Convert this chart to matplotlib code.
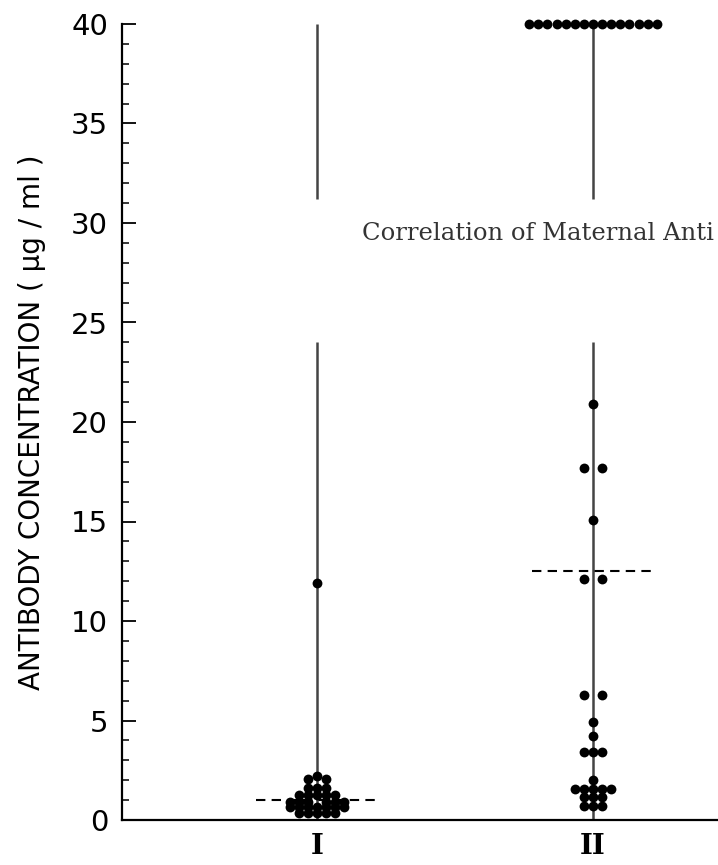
import matplotlib
matplotlib.use("Agg")
import matplotlib.pyplot as plt
from matplotlib.ticker import MultipleLocator
from collections import Counter

# values (ug/ml)
groups = ["I", "II"]
group_i = [11.9, 2.2, 2.05, 2.05, 1.6, 1.6, 1.6,
           1.25, 1.25, 1.25, 1.25, 1.25,
           0.9, 0.9, 0.9, 0.9, 0.9, 0.9,
           0.65, 0.65, 0.65, 0.65, 0.65, 0.65, 0.65,
           0.35, 0.35, 0.35, 0.35, 0.35]
group_ii = [40] * 15 + [20.9, 17.7, 17.7, 15.1, 12.1, 12.1, 6.3, 6.3, 4.9, 4.2,
                        3.4, 3.4, 3.4, 2.0, 1.55, 1.55, 1.55, 1.55, 1.55,
                        1.15, 1.15, 1.15, 0.7, 0.7, 0.7]
medians = [1.0, 12.5]
# each vertical line is broken between these two values
line_gap = [24.0, 31.2]
y_max = 40


def spread(values, center, step):
    # simple dot-plot layout: equal values sit side by side around the line
    xs, ys = [], []
    for v, n in Counter(values).items():
        if n % 2:
            offs = range(-(n // 2), n // 2 + 1)
        else:
            offs = [k for k in range(-(n // 2), n // 2 + 1) if k != 0]
        for k in offs:
            xs.append(center + k * step)
            ys.append(v)
    return xs, ys


fig = plt.figure(figsize=(7.18, 8.65), dpi=100)
ax = fig.add_axes([122 / 718, 45 / 865, 1 - 122 / 718, 796 / 865])

for i, vals in enumerate([group_i, group_ii]):
    xc = i + 1
    ax.vlines(xc, 0, line_gap[0], color="#444444", lw=1.8, zorder=2)
    ax.vlines(xc, line_gap[1], y_max, color="#444444", lw=1.8, zorder=2)
    xs, ys = spread(vals, xc, 0.033)
    ax.scatter(xs, ys, s=50, color="black", zorder=3, clip_on=False, linewidths=0)
    ax.hlines(medians[i], xc - 0.22, xc + 0.22, color="black", lw=1.5,
              linestyles=(0, (4.5, 3)), zorder=4)

ax.set_xlim(0.2935, 2.453)
ax.set_ylim(0, y_max)
for s in ["top", "right"]:
    ax.spines[s].set_visible(False)
ax.spines["left"].set_linewidth(1.6)
ax.spines["bottom"].set_linewidth(1.6)

ax.yaxis.set_major_locator(MultipleLocator(5))
ax.yaxis.set_minor_locator(MultipleLocator(1))
ax.tick_params(axis="y", which="major", direction="in", length=10, width=1.3,
               pad=10, labelsize=21)
ax.tick_params(axis="y", which="minor", direction="in", length=5, width=1.1)
ax.set_xticks([1, 2])
ax.set_xticklabels(groups, fontfamily="DejaVu Serif", fontweight="bold", fontsize=20)
ax.tick_params(axis="x", length=0, pad=9)

ax.set_ylabel("ANTIBODY CONCENTRATION ( \u03bcg / ml )", fontsize=20, labelpad=18)

fig.text(362 / 718, 1 - 240 / 865, "Correlation of Maternal Anti", fontsize=17.5,
         fontfamily="DejaVu Serif", color="#333333", va="baseline")

fig.savefig("out.png", dpi=100)
